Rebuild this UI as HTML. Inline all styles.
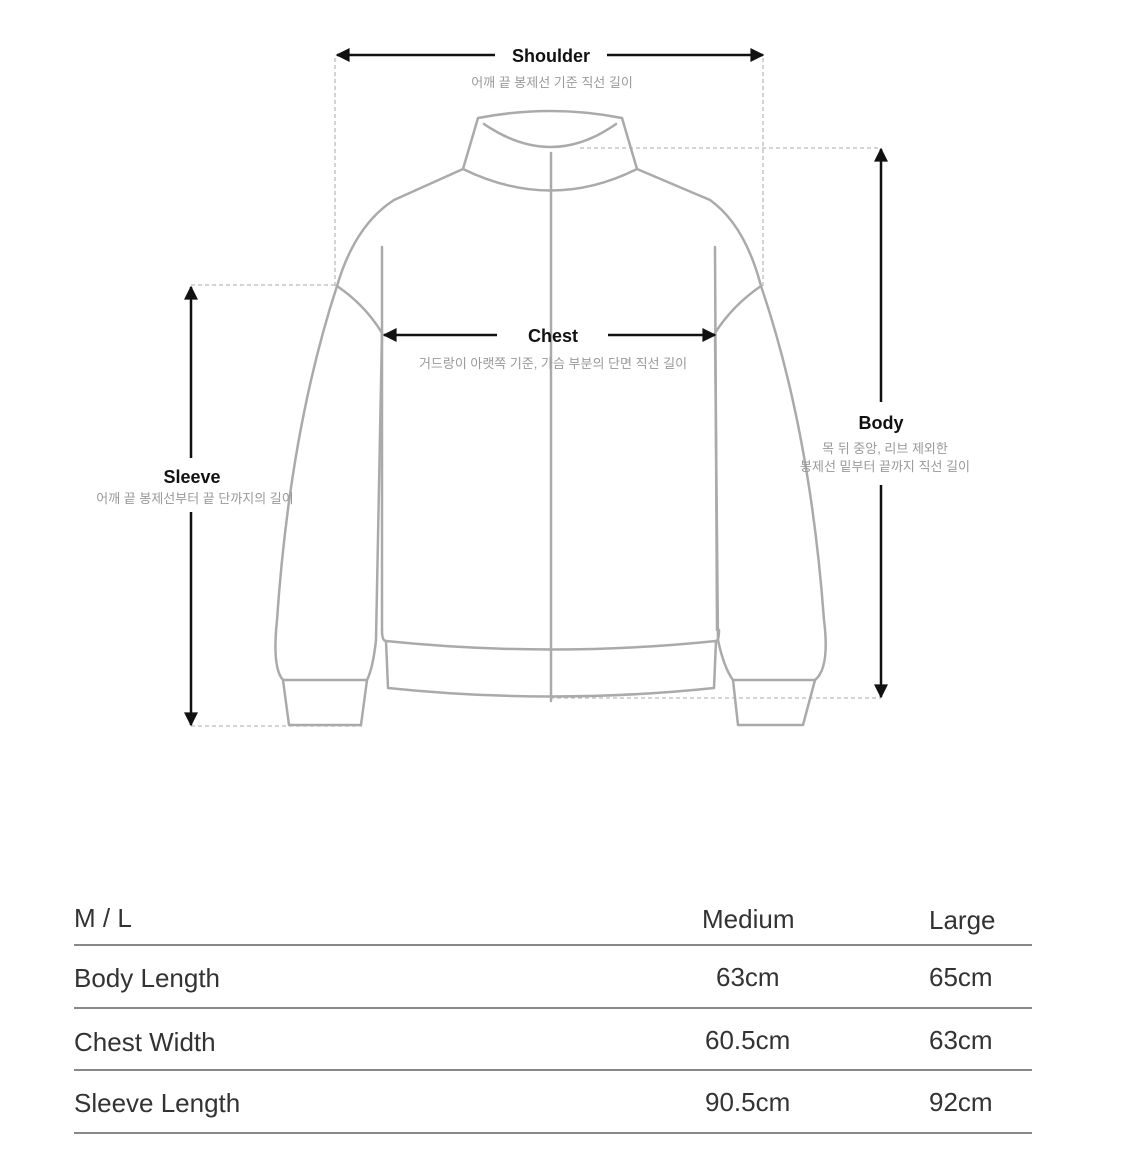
<!DOCTYPE html>
<html><head><meta charset="utf-8"><style>
body{margin:0;background:#fff;width:1125px;height:1172px;overflow:hidden;position:relative;font-family:"Liberation Sans","Noto Sans CJK KR",sans-serif}
.t{position:absolute;color:#333;font-size:26px;line-height:1}
.hr{position:absolute;left:74px;width:958px;height:2px;background:#888}
</style></head><body>
<svg width="1125" height="1172" style="position:absolute;left:0;top:0" font-family="Liberation Sans, Noto Sans CJK KR, sans-serif">
<defs>
<marker id="a2" viewBox="0 0 10 10" markerWidth="16" markerHeight="14" refX="9" refY="5" orient="auto-start-reverse" markerUnits="userSpaceOnUse"><path d="M0,0 L10,5 L0,10 Z" fill="#111"/></marker></defs>
<g stroke="#bbb" stroke-width="1.3" stroke-dasharray="4,3" fill="none">
<line x1="335" y1="58" x2="335" y2="286"/><line x1="763" y1="58" x2="763" y2="286"/>
<line x1="580" y1="148" x2="881" y2="148"/><line x1="550" y1="698" x2="881" y2="698"/>
<line x1="191" y1="285" x2="337" y2="285"/><line x1="191" y1="726" x2="362" y2="726"/>
</g>
<g stroke="#aaa" stroke-width="2.5" fill="none" stroke-linejoin="round" stroke-linecap="round">
<path d="M478,118 Q551,104 622,118 L637,169 Q551,212 463,169 Z"/>
<path d="M484,124 Q551,170 616,124"/>
<line x1="551" y1="153" x2="551" y2="701"/>
<path d="M463,169 L394,200 Q355,225 337,286 Q290,430 277,620 Q272,668 283,680 L367,680 Q373,668 376,640 L382,333"/>
<path d="M637,169 L710,200 Q745,225 761,286 Q810,430 824,620 Q830,668 815,680 L733,680 Q724,668 718,640 L715,333"/>
<path d="M337,286 Q365,305 382,333"/><path d="M761,286 Q733,305 715,333"/>
<line x1="382" y1="247" x2="382" y2="630"/><line x1="715" y1="247" x2="717" y2="630"/>
<path d="M382,630 Q382,641 386,641 Q551,658 716,641 Q719,641 719,630"/>
<path d="M386,641 L388,688 Q551,705 714,688 L716,641"/>
<path d="M283,680 L289,725 L361,725 L367,680"/><path d="M733,680 L738,725 L803,725 L815,680"/>
</g>
<g stroke="#111" stroke-width="2.5">
<line x1="495" y1="55" x2="337" y2="55" marker-end="url(#a2)"/><line x1="607" y1="55" x2="763" y2="55" marker-end="url(#a2)"/>
<line x1="497" y1="335" x2="384" y2="335" marker-end="url(#a2)"/><line x1="608" y1="335" x2="715" y2="335" marker-end="url(#a2)"/>
<line x1="881" y1="402" x2="881" y2="149" marker-end="url(#a2)"/><line x1="881" y1="485" x2="881" y2="697" marker-end="url(#a2)"/>
<line x1="191" y1="458" x2="191" y2="287" marker-end="url(#a2)"/><line x1="191" y1="512" x2="191" y2="725" marker-end="url(#a2)"/>
</g>
<g text-anchor="middle">
<text x="551" y="62" font-size="18" font-weight="bold" fill="#111">Shoulder</text>
<text x="552" y="87" font-size="13" fill="#999">어깨 끝 봉제선 기준 직선 길이</text>
<text x="553" y="342" font-size="18" font-weight="bold" fill="#111">Chest</text>
<text x="553" y="368" font-size="13" fill="#999">거드랑이 아랫쪽 기준, 가슴 부분의 단면 직선 길이</text>
<text x="881" y="429" font-size="18" font-weight="bold" fill="#111">Body</text>
<text x="885" y="453" font-size="13" fill="#999">목 뒤 중앙, 리브 제외한</text>
<text x="885" y="471" font-size="13" fill="#999">봉제선 밑부터 끝까지 직선 길이</text>
<text x="192" y="483" font-size="18" font-weight="bold" fill="#111">Sleeve</text>
<text x="195" y="503" font-size="13" fill="#999">어깨 끝 봉제선부터 끝 단까지의 길이</text>
</g>
</svg>
<div class="t" style="left:74px;top:905px">M / L</div>
<div class="t" style="left:702px;top:906px">Medium</div>
<div class="t" style="left:929px;top:907px">Large</div>
<div class="hr" style="top:944px"></div>
<div class="t" style="left:74px;top:965px">Body Length</div>
<div class="t" style="left:716px;top:964px">63cm</div>
<div class="t" style="left:929px;top:964px">65cm</div>
<div class="hr" style="top:1007px"></div>
<div class="t" style="left:74px;top:1029px">Chest Width</div>
<div class="t" style="left:705px;top:1027px">60.5cm</div>
<div class="t" style="left:929px;top:1027px">63cm</div>
<div class="hr" style="top:1069px"></div>
<div class="t" style="left:74px;top:1090px">Sleeve Length</div>
<div class="t" style="left:705px;top:1089px">90.5cm</div>
<div class="t" style="left:929px;top:1089px">92cm</div>
<div class="hr" style="top:1132px"></div>
</body></html>
